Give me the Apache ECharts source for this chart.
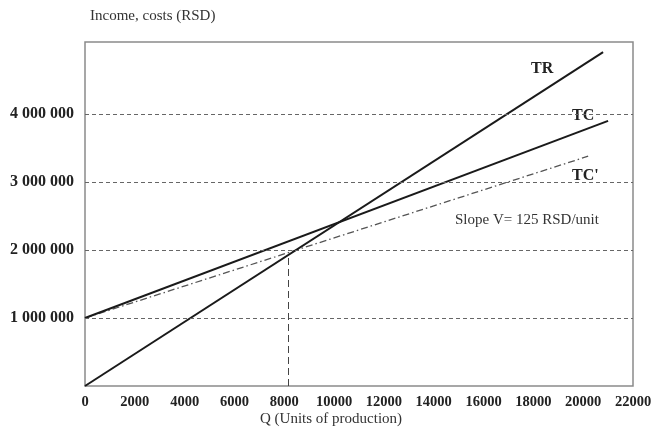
<!DOCTYPE html>
<html><head><meta charset="utf-8">
<script src="https://cdn.jsdelivr.net/npm/echarts@6/dist/echarts.min.js"></script>
<style>html,body{margin:0;padding:0;background:#fff}#c{width:659px;height:428px}</style>
</head><body><div id="c"></div>
<script>
// Data (x: units of production, y: RSD)
var xTicks = [0,2000,4000,6000,8000,10000,12000,14000,16000,18000,20000,22000];
var yTickLabels = [1000000,2000000,3000000,4000000];
var trLine = [[0,0],[20800,4910000]];
var tcLine = [[0,1000000],[21000,3900000]];
var tcPrimeLine = [[0,1000000],[20200,3380000]];
var breakEvenQ = 8150;
var breakEvenTop = 1900000;
var lineLabels = ['TR','TC',"TC'"];
var slopeNote = 'Slope V= 125 RSD/unit';
var yTitle = 'Income, costs (RSD)';
var xTitle = 'Q (Units of production)';

var serif = '"Liberation Serif","DejaVu Serif",serif';
function fmt(v){ return String(v).replace(/\B(?=(\d{3})+(?!\d))/g,' '); }

var chart = echarts.init(document.getElementById('c'), null, {renderer:'canvas'});
chart.setOption({
  animation:false,
  backgroundColor:'#fff',
  grid:{left:85,right:26,top:42,bottom:42,show:true,borderColor:'#8a8a8a',borderWidth:1.5,backgroundColor:'transparent'},
  xAxis:{type:'value',min:xTicks[0],max:xTicks[xTicks.length-1],interval:2000,
    axisLine:{show:false},axisTick:{show:false},splitLine:{show:false},
    axisLabel:{color:'#222',fontFamily:serif,fontWeight:'bold',fontSize:14.5,margin:9,
      formatter:function(v){return xTicks.indexOf(v)>=0?String(v):'';}}},
  yAxis:{type:'value',min:0,max:5060000,interval:1000000,
    axisLine:{show:false},axisTick:{show:false},splitLine:{show:false},
    axisLabel:{color:'#222',fontFamily:serif,fontWeight:'bold',fontSize:16,margin:11,
      formatter:function(v){return yTickLabels.indexOf(v)>=0?fmt(v):'';}}},
  graphic:[
    {type:'text',left:90,top:9,style:{text:yTitle,font:'15px '+serif,fill:'#333'}},
    {type:'text',left:260,top:412,style:{text:xTitle,font:'15px '+serif,fill:'#333'}},
    {type:'text',left:531,top:61,style:{text:lineLabels[0],font:'bold 16px '+serif,fill:'#222'}},
    {type:'text',left:572,top:108,style:{text:lineLabels[1],font:'bold 16px '+serif,fill:'#222'}},
    {type:'text',left:572,top:168,style:{text:lineLabels[2],font:'bold 16px '+serif,fill:'#222'}},
    {type:'text',left:455,top:213,style:{text:slopeNote,font:'15px '+serif,fill:'#333'}}
  ],
  series:[
    {type:'line',data:tcPrimeLine,showSymbol:false,silent:true,z:2,
      lineStyle:{color:'#555',width:1.3,type:[7,3,1.5,3]},
      markLine:{silent:true,symbol:'none',label:{show:false},
        lineStyle:{color:'#666',width:1,type:[4,3]},
        data:yTickLabels.map(function(v){return {yAxis:v};}).concat([
          [{coord:[breakEvenQ,0],lineStyle:{type:[7,4],color:'#444'}},{coord:[breakEvenQ,breakEvenTop]}]
        ])}},
    {type:'line',data:tcLine,showSymbol:false,silent:true,z:3,lineStyle:{color:'#1a1a1a',width:2}},
    {type:'line',data:trLine,showSymbol:false,silent:true,z:3,lineStyle:{color:'#1a1a1a',width:2}}
  ]
});
</script></body></html>
